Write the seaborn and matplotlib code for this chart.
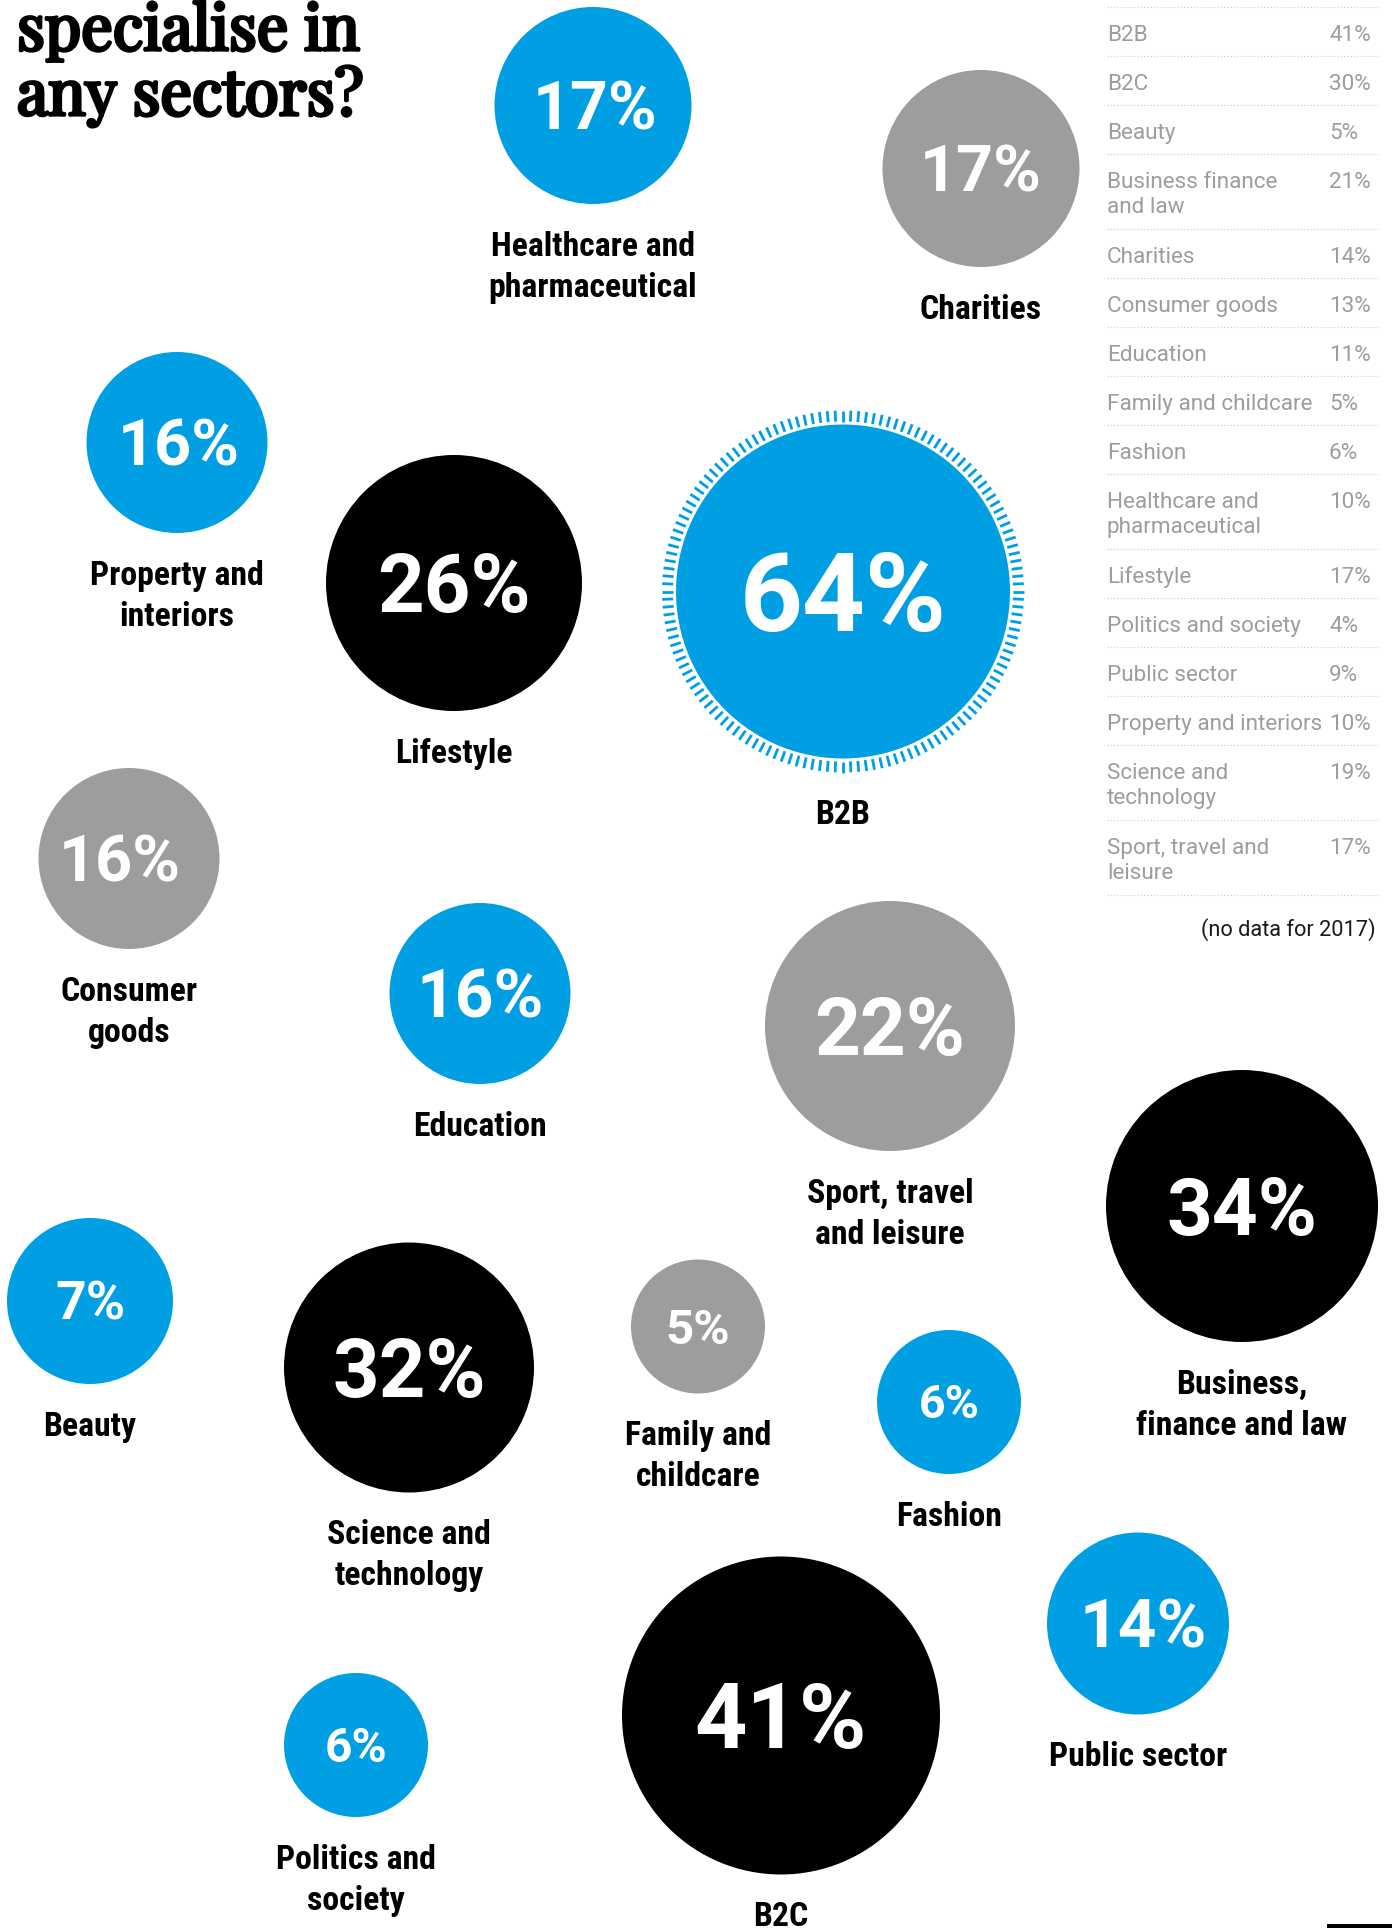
import numpy as np
import pandas as pd
import matplotlib
matplotlib.use("Agg")
import matplotlib.pyplot as plt
from matplotlib import font_manager as fm
from matplotlib import patheffects as pe
from matplotlib.collections import LineCollection
from matplotlib.patches import Rectangle
import seaborn as sns

# ---------------- data ----------------
sectors = ["Healthcare and\npharmaceutical", "Charities", "Property and\ninteriors", "Lifestyle", "B2B",
           "Consumer\ngoods", "Education", "Sport, travel\nand leisure", "Business,\nfinance and law",
           "Beauty", "Science and\ntechnology", "Family and\nchildcare", "Fashion", "Public sector",
           "Politics and\nsociety", "B2C"]
share_pct = [17, 17, 16, 26, 64, 16, 16, 22, 34, 7, 32, 5, 6, 14, 6, 41]
tone = ["blue", "grey", "blue", "black", "blue", "grey", "blue", "grey", "black",
        "blue", "black", "grey", "blue", "blue", "blue", "black"]

prev_sectors = ["B2B", "B2C", "Beauty", "Business finance\nand law", "Charities", "Consumer goods",
                "Education", "Family and childcare", "Fashion", "Healthcare and\npharmaceutical",
                "Lifestyle", "Politics and society", "Public sector", "Property and interiors",
                "Science and\ntechnology", "Sport, travel and\nleisure"]
prev_pct = [41, 30, 5, 21, 14, 13, 11, 5, 6, 10, 17, 4, 9, 10, 19, 17]

title_lines = ["specialise in", "any sectors?"]
footnote = "(no data for 2017)"

# ---------------- layout (pixels, origin top-left) ----------------
bubble_x = [593, 981, 177, 454, 843, 129, 480, 890, 1242, 90, 409, 698, 949, 1138, 356, 781]
bubble_y = [105.5, 168.5, 442.5, 583, 591.5, 858.5, 993.5, 1026, 1206, 1301, 1367.5, 1326.5,
            1402, 1623.5, 1745, 1715.5]
bubble_r = [98.5, 98.5, 90.5, 128, 167, 90.5, 90.5, 125, 136, 83, 125, 67, 72, 91, 72, 159]
digit_h = [47, 46, 46, 58, 78, 46, 48, 57, 57, 38, 58, 35, 33, 48, 34, 65]
digit_dx = [2, 0, 2, 0, 0, -9, 0, 0, 0, 0, 0, 0, 0, 5, 0, 0]

palette = {"blue": "#009fe3", "grey": "#9d9d9c", "black": "#000000"}
W, H = 1392, 1928
PX2PT = 0.72  # 1 px in points at 100 dpi

sns.set_theme(style="white")

names = {f.name for f in fm.fontManager.ttflist}


def pick(*cands, default="DejaVu Sans"):
    for c in cands:
        if c in names:
            return c
    return default


cond_family = pick("Roboto Condensed", "Liberation Sans Narrow", default="Roboto")
num_family = pick("Roboto", "Open Sans")
table_family = pick("Roboto", "Open Sans")
serif_family = pick("Playfair Display", "Playfair", "Liberation Serif", default="DejaVu Serif")

plt.rcParams["font.family"] = [num_family, "DejaVu Sans"]

fig = plt.figure(figsize=(W / 100, H / 100), dpi=100)
fig.patch.set_facecolor("white")
ax = fig.add_axes([0, 0, 1, 1])

df = pd.DataFrame({"sector": sectors, "share": share_pct, "tone": tone,
                   "x": bubble_x, "y": bubble_y, "r": bubble_r})

# bubbles: marker area given in pt^2, diameter = 2r px
sns.scatterplot(data=df, x="x", y="y", hue="tone", palette=palette, size="r",
                sizes={r: (2 * r * PX2PT) ** 2 for r in set(bubble_r)},
                linewidth=0, legend=False, ax=ax, zorder=2)

# tick ring around the largest bubble
big = int(np.argmax(share_pct))
bx, by, br = bubble_x[big], bubble_y[big], bubble_r[big]
ang = np.linspace(0, 2 * np.pi, 144, endpoint=False)
r_in, r_out = br + 3, br + 14
segs = [[(bx + r_in * np.cos(a), by + r_in * np.sin(a)),
         (bx + r_out * np.cos(a), by + r_out * np.sin(a))] for a in ang]
ax.add_collection(LineCollection(segs, colors=palette[tone[big]], linewidths=2.0,
                                 capstyle="butt", zorder=2))

# percentages and sector names
for i, (lab, val) in enumerate(zip(sectors, share_pct)):
    cx, cy, r, dh = bubble_x[i], bubble_y[i], bubble_r[i], digit_h[i]
    ax.text(cx + digit_dx[i], cy + dh / 2, f"{val}%", ha="center", va="baseline", color="white",
            fontsize=dh / 0.711 * PX2PT, fontweight="bold", family=num_family, zorder=3)
    outer = r + 14 if i == big else r
    base = cy + outer + 52
    for k, line in enumerate(lab.split("\n")):
        ax.text(cx, base + 41 * k, line, ha="center", va="baseline", color="black",
                fontsize=24 / 0.711 * PX2PT, fontweight="bold",
                family=cond_family, zorder=3)

# previous-year table on the right
tx0, tx1, vx = 1107, 1378, 1329
tcol = "#9d9d9d"
top = 7
ax.hlines(top, tx0, tx1, colors="#cccccc", linewidth=0.8, linestyles=(0, (1, 2)))
for lab, val in zip(prev_sectors, prev_pct):
    lines = lab.split("\n")
    for k, line in enumerate(lines):
        ax.text(tx0, top + 34 + 25 * k, line, ha="left", va="baseline", color=tcol,
                fontsize=16 / 0.711 * PX2PT, family=table_family)
    ax.text(vx, top + 34, f"{val}%", ha="left", va="baseline", color=tcol,
            fontsize=16 / 0.711 * PX2PT, family=table_family)
    top += 49 if len(lines) == 1 else 75
    ax.hlines(top, tx0, tx1, colors="#cccccc", linewidth=0.8, linestyles=(0, (1, 2)))

ax.text(1376, 936, footnote, ha="right", va="baseline", color="#1a1a1a",
        fontsize=15.5 / 0.711 * PX2PT, family=table_family)

# headline (heavy serif: outline stroke thickens the strokes)
heavy = [pe.withStroke(linewidth=2.6, foreground="black")]
for k, line in enumerate(title_lines):
    ax.text(17, 50 + 65 * k, line, ha="left", va="baseline", color="black",
            fontsize=45, fontweight="bold", family=serif_family, path_effects=heavy)

ax.add_patch(Rectangle((1327, 1924), 65, 4, color="black", lw=0))

ax.set_xlim(0, W)
ax.set_ylim(H, 0)
ax.set_aspect("equal")
ax.axis("off")
fig.savefig("out.png", dpi=100, facecolor="white")
